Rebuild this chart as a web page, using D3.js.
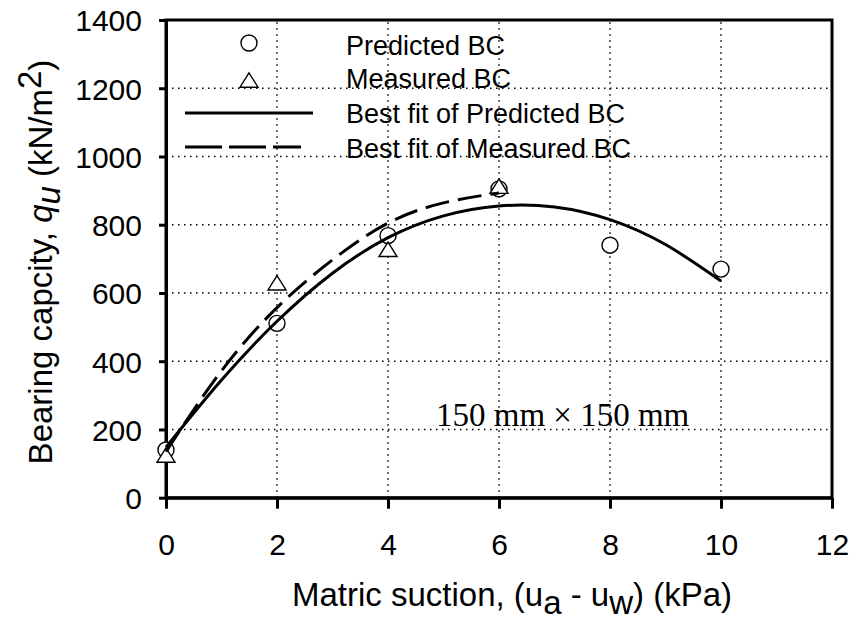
<!DOCTYPE html>
<html>
<head>
<meta charset="utf-8">
<title>Bearing capacity vs matric suction</title>
<script src="https://cdn.jsdelivr.net/npm/d3@7/dist/d3.min.js"></script>
<style>
  body { margin: 0; background: #fff; }
  svg { display: block; }
  text { font-family: "Liberation Sans", Arial, sans-serif; fill: #000; }
</style>
</head>
<body>
<div id="chart"></div>
<script>
// values
var suction = [0, 2, 4, 6, 8, 10];
var predictedBC = [140, 511, 768, 905, 740, 670];
var measuredSuction = [0, 2, 4, 6];
var measuredBC = [125, 630, 728, 913];

// best fit curves
var fitPredX = [0, 1, 2, 3, 4, 5, 6, 7, 8, 9, 10];
var fitPredY = [148, 345, 517, 658, 762, 826, 855, 852, 815, 742, 635];
var fitMeasX = [0, 1, 2, 3, 4, 5, 6];
var fitMeasY = [135, 372, 557, 697, 805, 864, 893];

var xTicks = [0, 2, 4, 6, 8, 10, 12];
var yTicks = [0, 200, 400, 600, 800, 1000, 1200, 1400];

var legendLabels = ["Predicted BC", "Measured BC", "Best fit of Predicted BC", "Best fit of Measured BC"];

var W = 854, H = 620;
var svg = d3.select("#chart").append("svg").attr("width", W).attr("height", H);

var x = d3.scaleLinear().domain([0, 12]).range([166, 832]);
var y = d3.scaleLinear().domain([0, 1400]).range([497.7, 20]);

// dotted grid
var grid = svg.append("g");
grid.selectAll("line.gx").data(xTicks.slice(1, -1)).enter().append("line")
  .attr("x1", function(d) { return x(d); }).attr("x2", function(d) { return x(d); })
  .attr("y1", y(0)).attr("y2", y(1400))
  .attr("stroke", "#000").attr("stroke-width", 1.5).attr("stroke-dasharray", "1.5,4.5");
grid.selectAll("line.gy").data(yTicks.slice(1, -1)).enter().append("line")
  .attr("y1", function(d) { return y(d); }).attr("y2", function(d) { return y(d); })
  .attr("x1", x(0)).attr("x2", x(12))
  .attr("stroke", "#000").attr("stroke-width", 1.5).attr("stroke-dasharray", "1.5,4.5");

// axes
var xAxis = svg.append("g").attr("transform", "translate(0," + y(0) + ")")
  .call(d3.axisBottom(x).tickValues(xTicks).tickFormat(d3.format("d")).tickSize(11).tickSizeOuter(0));
xAxis.selectAll("text").attr("y", 36).attr("dy", "0.71em").style("font-size", "30px")
  .style("font-family", "Liberation Sans, Arial, sans-serif");

var yAxis = svg.append("g").attr("transform", "translate(" + x(0) + ",0)")
  .call(d3.axisLeft(y).tickValues(yTicks).tickFormat(d3.format("d")).tickSize(7).tickSizeOuter(0).tickPadding(17));
yAxis.selectAll("text").attr("dy", "0.36em").style("font-size", "30px")
  .style("font-family", "Liberation Sans, Arial, sans-serif");

svg.selectAll(".domain").attr("stroke-width", 3);
svg.selectAll(".tick line").attr("stroke-width", 3);

// frame
svg.append("rect").attr("x", x(0)).attr("y", y(1400))
  .attr("width", x(12) - x(0)).attr("height", y(0) - y(1400))
  .attr("fill", "none").attr("stroke", "#000").attr("stroke-width", 3);

// markers
function triPath(cx, cy) {
  return "M" + cx + "," + (cy - 7.2) + "L" + (cx + 9) + "," + (cy + 7.2) + "L" + (cx - 9) + "," + (cy + 7.2) + "Z";
}

svg.append("g").selectAll("circle").data(suction).enter().append("circle")
  .attr("cx", function(d) { return x(d); })
  .attr("cy", function(d, i) { return y(predictedBC[i]); })
  .attr("r", 8).attr("fill", "#fff").attr("stroke", "#000").attr("stroke-width", 1.4);

svg.append("g").selectAll("path").data(measuredSuction).enter().append("path")
  .attr("d", function(d, i) { return triPath(x(d), y(measuredBC[i])); })
  .attr("fill", "#fff").attr("stroke", "#000").attr("stroke-width", 1.4);

// fit curves
var line = d3.line().x(function(d) { return x(d[0]); }).y(function(d) { return y(d[1]); })
  .curve(d3.curveNatural);

svg.append("path").datum(d3.zip(fitPredX, fitPredY)).attr("d", line)
  .attr("fill", "none").attr("stroke", "#000").attr("stroke-width", 3);
svg.append("path").datum(d3.zip(fitMeasX, fitMeasY)).attr("d", line)
  .attr("fill", "none").attr("stroke", "#000").attr("stroke-width", 3)
  .attr("stroke-dasharray", "24,9");

// legend
var lg = svg.append("g");
var rowY = [43, 80, 113, 147];
var baseY = [55, 88, 123, 158];
lg.append("circle").attr("cx", 249).attr("cy", rowY[0]).attr("r", 8)
  .attr("fill", "#fff").attr("stroke", "#000").attr("stroke-width", 1.4);
lg.append("path").attr("d", triPath(249, rowY[1]))
  .attr("fill", "#fff").attr("stroke", "#000").attr("stroke-width", 1.4);
lg.append("line").attr("x1", 185).attr("x2", 313).attr("y1", rowY[2]).attr("y2", rowY[2])
  .attr("stroke", "#000").attr("stroke-width", 3);
lg.append("line").attr("x1", 185).attr("x2", 301).attr("y1", rowY[3]).attr("y2", rowY[3])
  .attr("stroke", "#000").attr("stroke-width", 3).attr("stroke-dasharray", "37,7");
lg.selectAll("text").data(legendLabels).enter().append("text")
  .attr("x", 346).attr("y", function(d, i) { return baseY[i]; })
  .style("font-size", "27px").text(function(d) { return d; });

// annotation
svg.append("text").attr("x", 436).attr("y", 426)
  .style("font-family", "Liberation Serif, Times New Roman, serif").style("font-size", "33px")
  .text("150 mm \u00d7 150 mm");

// axis titles
var xt = svg.append("text").attr("x", 512).attr("y", 606).attr("text-anchor", "middle")
  .style("font-size", "33px");
xt.append("tspan").text("Matric suction, (u");
xt.append("tspan").attr("dy", 8).text("a");
xt.append("tspan").attr("dy", -8).text(" - u");
xt.append("tspan").attr("dy", 8).text("w");
xt.append("tspan").attr("dy", -8).text(") (kPa)");

var yt = svg.append("text").attr("transform", "translate(52,262) rotate(-90)")
  .attr("text-anchor", "middle").style("font-size", "33px");
yt.append("tspan").text("Bearing capcity, ");
yt.append("tspan").style("font-style", "italic").text("q");
yt.append("tspan").style("font-style", "italic").attr("dy", 8).text("u");
yt.append("tspan").attr("dy", -8).text(" (kN/m");
yt.append("tspan").attr("dy", -11).text("2");
yt.append("tspan").attr("dy", 11).text(")");
</script>
</body>
</html>
